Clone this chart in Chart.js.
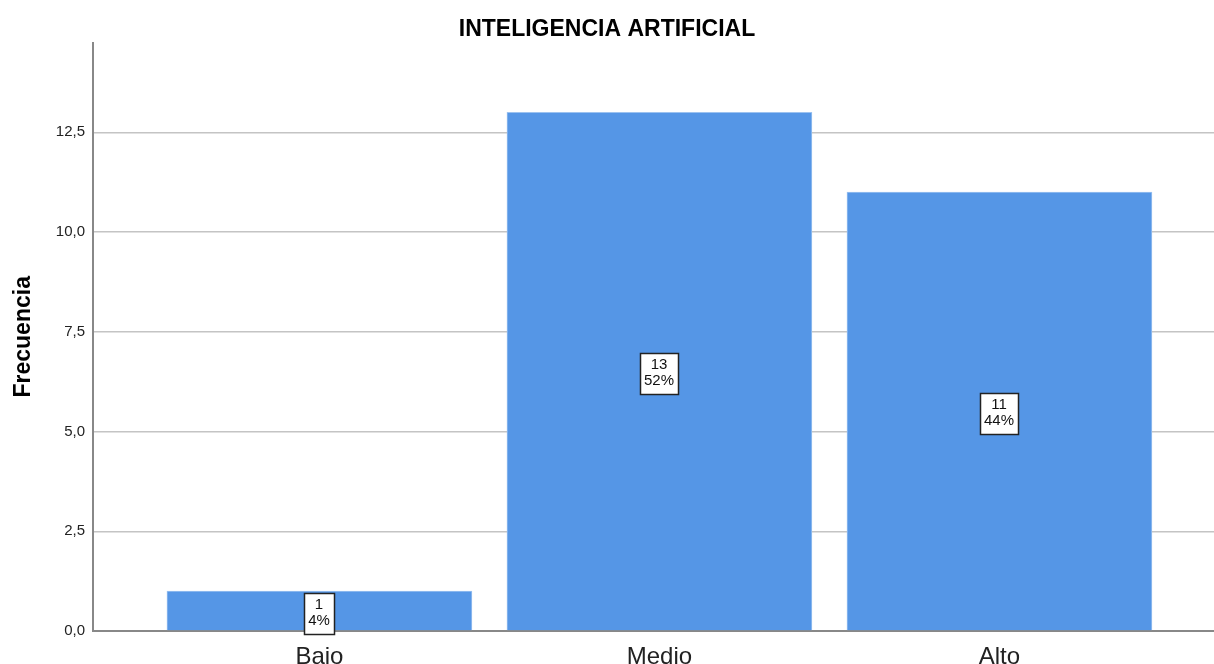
<!DOCTYPE html>
<html>
<head>
<meta charset="utf-8">
<title>Inteligencia artificial</title>
<script src="https://cdn.jsdelivr.net/npm/chart.js@4/dist/chart.umd.min.js"></script>
<style>
    html, body { margin: 0; padding: 0; background: #fff; }
    #wrap { width: 1214px; height: 664px; }
</style>
</head>
<body>
<div id="wrap"><canvas id="chart"></canvas></div>
<script>
// --- data ---
const categories = ['Bajo', 'Medio', 'Alto'];
const counts = [1, 13, 11];
const percents = [4, 52, 44];
const yTicks = [0, 2.5, 5, 7.5, 10, 12.5];

const FONT = "'Liberation Sans', Arial, sans-serif";
const barColor = '#5596e6';

// boxed "n / pct%" labels in the middle of each bar
const boxLabels = {
    id: 'boxLabels',
    afterDatasetsDraw(chart) {
        const ctx = chart.ctx;
        const meta = chart.getDatasetMeta(0);
        ctx.save();
        ctx.font = '15px ' + FONT;
        ctx.textAlign = 'center';
        ctx.textBaseline = 'middle';
        meta.data.forEach((bar, i) => {
            const line1 = String(counts[i]);
            const line2 = percents[i] + '%';
            const w = Math.max(ctx.measureText(line1).width, ctx.measureText(line2).width) + 8;
            const h = 41;
            const cx = Math.round(bar.x);
            const cy = Math.round((bar.y + bar.base) / 2) + 2;
            const x0 = Math.round(cx - w / 2) + 0.5;
            const y0 = Math.round(cy - h / 2) + 0.5;
            ctx.fillStyle = '#ffffff';
            ctx.fillRect(x0, y0, Math.round(w), h);
            ctx.strokeStyle = '#222';
            ctx.lineWidth = 1.5;
            ctx.strokeRect(x0, y0, Math.round(w), h);
            ctx.fillStyle = '#111';
            ctx.fillText(line1, cx, cy - 8);
            ctx.fillText(line2, cx, cy + 8);
        });
        ctx.restore();
    }
};

new Chart(document.getElementById('chart'), {
    type: 'bar',
    data: {
        datasets: [{
            data: counts.map((v, i) => ({ x: i, y: v })),
            backgroundColor: barColor,
            borderColor: '#9cc2f0',
            borderWidth: 1,
            barThickness: 305
        }]
    },
    options: {
        responsive: true,
        maintainAspectRatio: false,
        animation: false,
        layout: { padding: 0 },
        plugins: {
            legend: { display: false },
            tooltip: { enabled: false },
            title: {
                display: true,
                text: 'INTELIGENCIA ARTIFICIAL',
                color: '#000',
                font: { family: FONT, size: 23, weight: 'bold' },
                padding: { top: 16, bottom: -1 }
            }
        },
        scales: {
            x: {
                type: 'linear',
                offset: false,
                min: -0.666,
                max: 2.631,
                afterBuildTicks: s => { s.ticks = categories.map((c, i) => ({ value: i })); },
                afterFit: s => { s.height = 33; },
                ticks: {
                    callback: v => categories[v],
                    color: '#222',
                    font: { family: FONT, size: 24 },
                    padding: 12,
                    maxRotation: 0,
                    autoSkip: false
                },
                grid: { display: false, drawTicks: false, offset: false },
                border: { color: '#888', width: 2 }
            },
            y: {
                min: 0,
                max: 14.75,
                afterBuildTicks: s => { s.ticks = yTicks.map(v => ({ value: v })); },
                afterFit: s => { s.width = 93; },
                ticks: {
                    callback: v => v.toFixed(1).replace('.', ','),
                    color: '#222',
                    font: { family: FONT, size: 15 },
                    padding: 8
                },
                grid: { color: '#c4c4c4', lineWidth: 1.5, drawTicks: false },
                border: { color: '#888', width: 2 },
                title: {
                    display: true,
                    text: 'Frecuencia',
                    color: '#000',
                    font: { family: FONT, size: 23, weight: 'bold' },
                    padding: { top: 10, bottom: 0 }
                }
            }
        }
    },
    plugins: [boxLabels]
});
</script>
</body>
</html>
